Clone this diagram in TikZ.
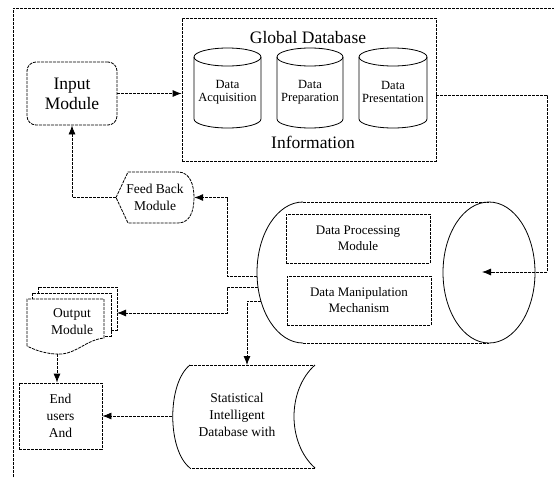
\documentclass[tikz,border=0pt]{standalone}
\usepackage{fontspec}
\setmainfont{Liberation Serif}
\usetikzlibrary{arrows.meta}
\newcommand{\dbcylinder}[2]{%
  \draw[sl, fill=white] ({#1-#2},57) -- ({#1-#2},119) arc[start angle=180,end angle=360,x radius=#2pt,y radius=9pt] -- ({#1+#2},57);
  \draw[sl] (#1,57) ellipse[x radius=#2pt, y radius=9pt];
}
\begin{document}
\begin{tikzpicture}[x=1pt,y=-1pt,
  dl/.style={line width=0.8pt, dash pattern=on 3pt off 1pt},
  sl/.style={line width=0.8pt},
  conn/.style={dl, -{Latex[length=9pt,width=7pt]}},
  big/.style={font=\fontsize{17.5}{20}\selectfont, align=center, inner sep=0pt},
  mid/.style={font=\fontsize{13.5}{17}\selectfont, align=center, inner sep=0pt},
  boxtxt/.style={font=\fontsize{13}{16}\selectfont, align=center, inner sep=0pt},
  cyltxt/.style={font=\fontsize{12.5}{13.5}\selectfont, align=center, inner sep=0pt},
]
\useasboundingbox (0,0) rectangle (554,477);
% outer frame
\draw[dl] (13,477) -- (13,8) -- (554,8);

% input module
\node[dl, draw, rounded corners=9pt, minimum width=90pt, minimum height=63pt, big] (input) at (72,93.5) {Input\\Module};

% global database
\node[dl, draw, minimum width=254pt, minimum height=143pt, inner sep=0pt] (gdb) at (309,89.5) {};
\node[big] (gtitle) at (308,37.5) {Global Database};
\node[big] (ginfo) at (313,142) {Information};
\dbcylinder{227.5}{33.5}
\dbcylinder{310}{33}
\dbcylinder{393}{34}
\node[cyltxt] (acq) at (227.5,92) {Data\\Acquisition};
\node[cyltxt] (prep) at (310,92) {Data\\Preparation};
\node[cyltxt] (pres) at (393,92) {Data\\Presentation};

% big cylinder
\draw[dl] (303,202) -- (489,202) (303,343) -- (489,343);
\draw[sl] (303,202) arc[start angle=90,end angle=270,x radius=46pt,y radius=70.5pt];
\draw[sl] (489,272.5) ellipse[x radius=46pt, y radius=70.5pt];
\node[dl, draw, minimum width=144pt, minimum height=49pt, boxtxt] (dpm) at (358,238.5) {Data Processing\\Module};
\node[dl, draw, minimum width=144pt, minimum height=49pt, boxtxt] (dmm) at (359,300.5) {Data Manipulation\\Mechanism};
\coordinate (bcin) at (482,272);
\coordinate (bcfb) at (257,276);
\coordinate (bcout) at (258,287);
\coordinate (bcdb) at (261,301);

% feed back module
\draw[dl] (116,197.5) -- (128,172) -- (178,172) .. controls (190,172) and (194,185) .. (194,197.5) .. controls (194,211) and (190,223) .. (178,223) -- (128,223) -- cycle;
\node[minimum width=78pt, minimum height=51pt, mid] (fb) at (155,197.5) {Feed Back\\Module};

% output module
\draw[dl, fill=white] (38,287) rectangle (117,330);
\draw[dl, fill=white] (32,293) rectangle (111,336);
\draw[dl, fill=white] (27,346) -- (27,299) -- (104,299) -- (104,338) .. controls (85,340) and (75,356) .. (55,354) .. controls (42,353) and (33,349) .. (27,346);
\node[mid] (out) at (72,322) {Output\\Module};
\coordinate (outin) at (117,313);
\coordinate (outbot) at (57,354);

% end users
\node[dl, draw, minimum width=83pt, minimum height=66pt, mid] (users) at (60.5,416) {End\\users\\And};

% statistical intelligent database
\draw[dl] (190,365) -- (315,365) (315,468) -- (190,468);
\draw[sl] (315,365) .. controls (287,390) and (287,443) .. (315,468);
\draw[sl] (190,468) .. controls (167,450) and (167,383) .. (190,365);
\node[mid] (sid) at (237,415) {Statistical\\Intelligent\\Database with};
\coordinate (sidn) at (247,365);
\coordinate (sidw) at (172,416);

% connectors
\draw[conn] (input.east) -- (input.east -| gdb.west);
\draw[conn] ([yshift=-5.5pt]gdb.east) -- ++(111,0) |- (bcin);
\draw[conn] (bcfb) -- ++(-30,0) |- (fb.east);
\draw[conn] (fb.west) -| (input.south);
\draw[conn] (bcout) -- ++(-31,0) |- (outin);
\draw[conn] (bcdb) -| (sidn);
\draw[conn] (outbot) -- (outbot |- users.north);
\draw[conn] (sidw) -- (users.east);
\end{tikzpicture}
\end{document}
